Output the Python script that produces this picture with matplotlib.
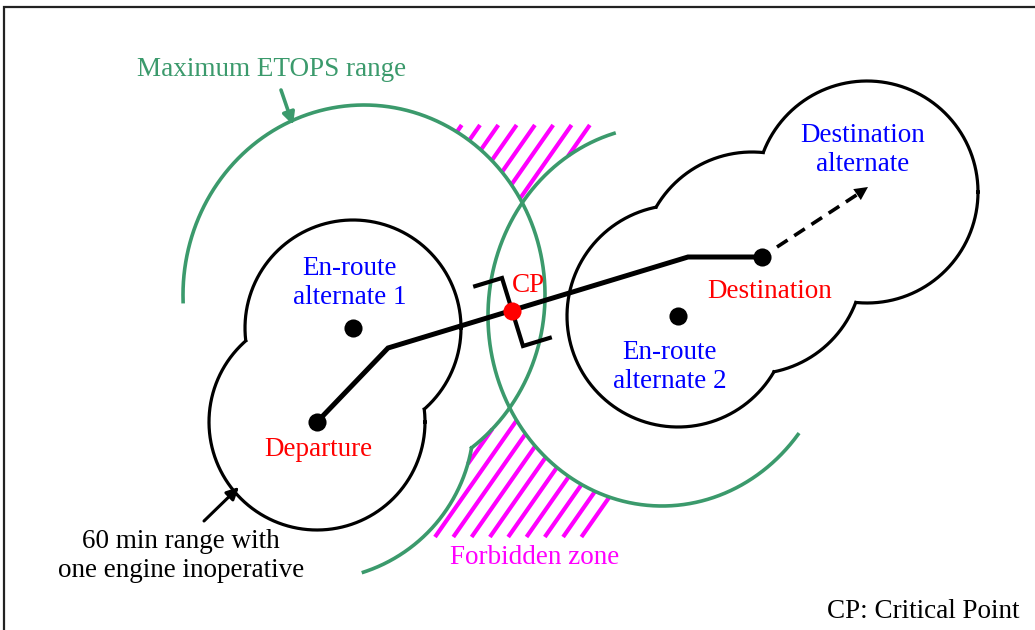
import numpy as np
import matplotlib.pyplot as plt

plt.rcParams['font.family'] = ['Liberation Serif', 'DejaVu Serif']

# everything is in picture pixels, y pointing down
# 60 min range (one engine inoperative) circles
left_cx = [317, 353]
left_cy = [422, 328]
left_r = 108
right_cx = [678, 752, 867]
right_cy = [316, 263, 192]
right_r = 111

# airports
port_x = [317, 353, 678, 762]
port_y = [422, 328, 316, 257]

# flight route and critical point
route_x = [317, 388, 688, 762]
route_y = [422, 348, 257, 257]
cp_x, cp_y = 512, 311

# maximum ETOPS range arcs: cx, cy, rx, ry, start angle, end angle
etops_left = (364, 295, 181, 190, 178, 450)
etops_low = (314, 420, 160, 160, -40, 72)
etops_right = (662, 316, 174, 190, 38.6, 254)

# forbidden zone hatching
hatch_angle = 55
hatch_step = 18.3
hatch_top_x0, hatch_top_y = 461.7, 125
hatch_bot_x0, hatch_bot_y = 453.3, 537

GREEN = '#3b9a6c'
MAGENTA = '#ff00ff'


def ellipse_pts(cx, cy, rx, ry, a0=0, a1=360, n=1500):
    t = np.radians(np.linspace(a0, a1, n))
    return cx + rx * np.cos(t), cy + ry * np.sin(t)


def inside(x, y, cx, cy, rx, ry):
    return ((x - cx) / rx) ** 2 + ((y - cy) / ry) ** 2 < 1 - 1e-9


def union_outline(ax, cxs, cys, r, **kw):
    for i in range(len(cxs)):
        x, y = ellipse_pts(cxs[i], cys[i], r, r)
        m = np.zeros_like(x, dtype=bool)
        for j in range(len(cxs)):
            if j != i:
                m |= inside(x, y, cxs[j], cys[j], r, r)
        x[m] = np.nan
        y[m] = np.nan
        ax.plot(x, y, **kw)


fig = plt.figure(figsize=(10.35, 6.3), dpi=100)
ax = fig.add_axes([0, 0, 1, 1])
ax.set_xlim(0, 1035)
ax.set_ylim(630, 0)
ax.axis('off')

# frame (only top and left edges are visible)
ax.plot([4, 4, 1035], [630, 7, 7], color='#222222', lw=1.6, solid_joinstyle='miter')

# hatching of forbidden zones
g1 = etops_left[:4]
g2 = etops_low[:4]
g3 = etops_right[:4]
ca, sa = np.cos(np.radians(hatch_angle)), np.sin(np.radians(hatch_angle))
s = np.linspace(0, 160, 800)
for k in range(-2, 8):
    x = hatch_top_x0 + hatch_step * k - s * ca
    y = hatch_top_y + s * sa
    m = inside(x, y, *g1) | inside(x, y, *g3)
    x[m] = np.nan
    y[m] = np.nan
    ax.plot(x, y, color=MAGENTA, lw=3, solid_capstyle='butt')
for k in range(-4, 8):
    x = hatch_bot_x0 + hatch_step * k + s * ca
    y = hatch_bot_y - s * sa
    m = inside(x, y, *g1) | inside(x, y, *g2) | inside(x, y, *g3)
    x[m] = np.nan
    y[m] = np.nan
    ax.plot(x, y, color=MAGENTA, lw=3, solid_capstyle='butt')

# ETOPS range arcs
x, y = ellipse_pts(*etops_left)
m = inside(x, y, *g2)
x[m] = np.nan
ax.plot(x, y, color=GREEN, lw=2.6)
x, y = ellipse_pts(*etops_low)
m = inside(x, y, *g1)
x[m] = np.nan
ax.plot(x, y, color=GREEN, lw=2.6)
x, y = ellipse_pts(*etops_right)
ax.plot(x, y, color=GREEN, lw=2.6)

# 60 min range outlines
union_outline(ax, left_cx, left_cy, left_r, color='black', lw=2.3)
union_outline(ax, right_cx, right_cy, right_r, color='black', lw=2.3)

# route
ax.plot(route_x, route_y, color='black', lw=3.6, solid_joinstyle='miter')
ax.scatter(port_x, port_y, s=170, color='black', zorder=5, linewidths=0)

# critical point bracket
d = np.array([route_x[2] - route_x[1], route_y[2] - route_y[1]], float)
d /= np.hypot(*d)
top = np.array([cp_x - 10, cp_y - 33])
bot = np.array([cp_x + 11, cp_y + 35])
bx = [top[0] - 28 * d[0], top[0], bot[0], bot[0] + 28 * d[0]]
by = [top[1] - 28 * d[1], top[1], bot[1], bot[1] + 28 * d[1]]
ax.plot(bx, by, color='black', lw=3, solid_joinstyle='miter')
ax.scatter([cp_x], [cp_y], s=170, color='red', zorder=6, linewidths=0)

# dashed arrow to destination alternate
ax.plot([777, 858], [247, 194], color='black', lw=2.6, dashes=(3.5, 2.2))
ax.annotate('', xy=(868, 187), xytext=(855, 196),
            arrowprops=dict(arrowstyle='-|>', mutation_scale=24, color='black',
                            lw=0, shrinkA=0, shrinkB=0))

# labels
fs = 19.5
ls = 1.22
ax.text(272, 70, 'Maximum ETOPS range', color=GREEN, fontsize=fs, ha='center', va='center')
ax.annotate('', xy=(293, 125), xytext=(281, 90),
            arrowprops=dict(arrowstyle='-|>', mutation_scale=18, color=GREEN,
                            lw=2.6, shrinkA=0, shrinkB=0))
ax.text(350, 283, 'En-route\nalternate 1', color='blue', fontsize=fs, ha='center',
        va='center', linespacing=ls)
ax.text(318, 450, 'Departure', color='red', fontsize=fs, ha='center', va='center')
ax.text(528, 286, 'CP', color='red', fontsize=fs, ha='center', va='center')
ax.text(770, 291, 'Destination', color='red', fontsize=fs, ha='center', va='center')
ax.text(670, 367, 'En-route\nalternate 2', color='blue', fontsize=fs, ha='center',
        va='center', linespacing=ls)
ax.text(863, 150, 'Destination\nalternate', color='blue', fontsize=fs, ha='center',
        va='center', linespacing=ls)
ax.text(535, 557, 'Forbidden zone', color=MAGENTA, fontsize=fs, ha='center', va='center')
ax.text(181, 556, '60 min range with\none engine inoperative', color='black', fontsize=fs,
        ha='center', va='center', linespacing=ls)
ax.annotate('', xy=(239, 487), xytext=(204, 521),
            arrowprops=dict(arrowstyle='-|>', mutation_scale=18, color='black',
                            lw=2.2, shrinkA=0, shrinkB=0))
ax.text(923, 611, 'CP: Critical Point', color='black', fontsize=fs, ha='center', va='center')

fig.savefig('out.png', dpi=100)
